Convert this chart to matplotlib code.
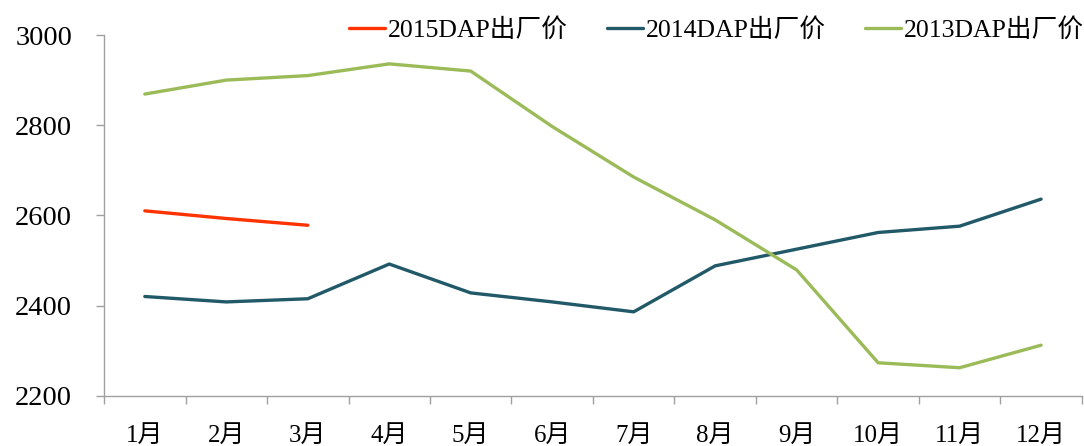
import matplotlib
matplotlib.use("Agg")
import matplotlib.pyplot as plt
import numpy as np

months = ["1月", "2月", "3月", "4月", "5月", "6月", "7月", "8月", "9月", "10月", "11月", "12月"]
dap_2015 = [2610, 2593, 2578]
dap_2014 = [2420, 2408, 2415, 2492, 2428, 2408, 2386, 2488, 2525, 2562, 2576, 2636]
dap_2013 = [2869, 2900, 2910, 2936, 2920, 2797, 2685, 2590, 2479, 2273, 2262, 2312]
y_ticks = [2200, 2400, 2600, 2800, 3000]

plt.rcParams["font.family"] = ["Liberation Serif", "Noto Sans CJK SC"]

fig = plt.figure(figsize=(10.84, 4.46), dpi=100)
ax = fig.add_axes([0.096, 0.1128, 0.902, 0.8087])

x = np.arange(len(months))
ax.plot(x[:len(dap_2015)], dap_2015, color="#FF3300", lw=2.4, label="2015DAP出厂价", solid_capstyle="round")
ax.plot(x, dap_2014, color="#215968", lw=2.4, label="2014DAP出厂价", solid_capstyle="round")
ax.plot(x, dap_2013, color="#9BBB59", lw=2.4, label="2013DAP出厂价", solid_capstyle="round")

ax.set_xlim(-0.5, len(months) - 0.5)
ax.set_ylim(2200, 3000)
ax.set_yticks(y_ticks)
ax.set_yticklabels([str(v) for v in y_ticks], fontsize=20.5)
ax.set_xticks(x)
ax.set_xticklabels(months, fontsize=18)
ax.set_xticks(np.arange(-0.5, len(months)), minor=True)
ax.tick_params(axis="x", which="major", length=0, pad=21)
ax.tick_params(axis="x", which="minor", length=6, color="#A0A0A0", width=1)
ax.tick_params(axis="y", length=6, color="#A0A0A0", width=1, pad=17)

for side in ["top", "right"]:
    ax.spines[side].set_visible(False)
for side in ["left", "bottom"]:
    ax.spines[side].set_color("#A0A0A0")
    ax.spines[side].set_linewidth(1)

leg = ax.legend(loc="center right", bbox_to_anchor=(1.002, 1.014), ncol=3, frameon=False,
                fontsize=18.5, handlelength=1.4, handletextpad=0.12, columnspacing=1.5,
                borderaxespad=0, borderpad=0)

fig.savefig("out.png", dpi=100)
